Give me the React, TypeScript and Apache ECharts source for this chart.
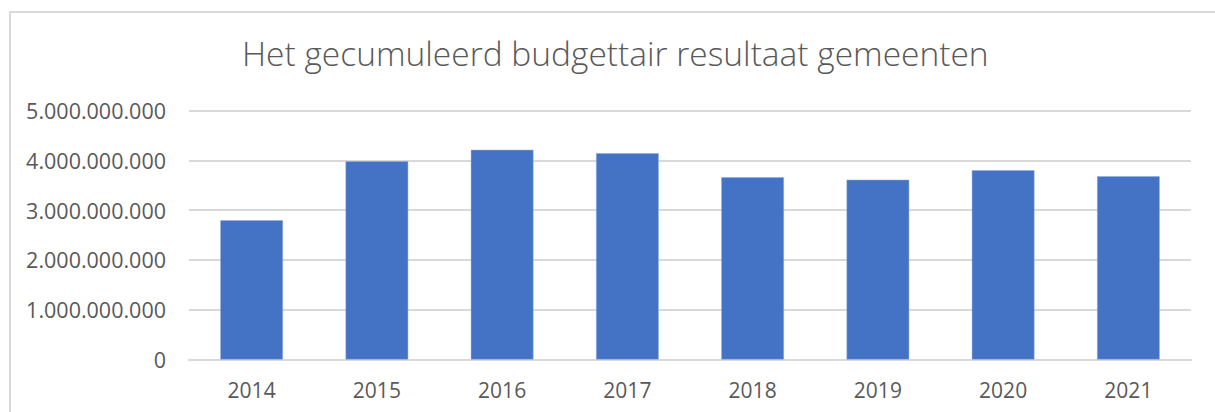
import React, { useEffect, useRef } from "react";
import * as echarts from "echarts";

const categories = ["2014", "2015", "2016", "2017", "2018", "2019", "2020", "2021"];
const values = [2795000000, 3980000000, 4210000000, 4140000000, 3660000000, 3610000000, 3800000000, 3680000000];
const titleText = "Het gecumuleerd budgettair resultaat gemeenten";

function fmt(v: number): string {
  return String(Math.round(v)).replace(/\B(?=(\d{3})+(?!\d))/g, ".");
}

export default function App() {
  const ref = useRef<HTMLDivElement>(null);
  useEffect(() => {
    if (!ref.current) return;
    const chart = echarts.init(ref.current, null, { renderer: "svg" });
    chart.setOption({
      animation: false,
      backgroundColor: "#ffffff",
      title: {
        text: titleText,
        left: 242,
        top: 36,
        padding: 0,
        textStyle: {
          fontFamily: "Open Sans",
          fontWeight: 300,
          fontSize: 33.5,
          color: "#595959",
        },
      },
      graphic: [
        {
          type: "rect",
          shape: { x: 10, y: 12, width: 1230, height: 420 },
          style: { fill: "none", stroke: "#d9d9d9", lineWidth: 2 },
          silent: true,
        },
      ],
      grid: { left: 189, right: 24, top: 110.5, bottom: 52.5, containLabel: false },
      xAxis: {
        type: "category",
        data: categories,
        axisTick: { show: false },
        axisLine: { show: true, lineStyle: { color: "#d9d9d9", width: 2 } },
        axisLabel: {
          fontFamily: "Open Sans",
          fontSize: 21,
          color: "#595959",
          margin: 20,
        },
      },
      yAxis: {
        type: "value",
        min: 0,
        max: 5000000000,
        interval: 1000000000,
        axisLine: { show: false },
        axisTick: { show: false },
        splitLine: { lineStyle: { color: "#d9d9d9", width: 2 } },
        axisLabel: {
          fontFamily: "Open Sans",
          fontSize: 21.5,
          color: "#595959",
          margin: 23,
          formatter: (v: number) => fmt(v),
        },
      },
      series: [
        {
          type: "bar",
          data: values,
          barWidth: "50%",
          itemStyle: { color: "#4472c4", borderColor: "#8eaadb", borderWidth: 0.5 },
        },
      ],
    });
    return () => chart.dispose();
  }, []);
  return (
    <div
      ref={ref}
      style={{ position: "absolute", left: 0, top: 0, width: 1215, height: 412 }}
    />
  );
}
